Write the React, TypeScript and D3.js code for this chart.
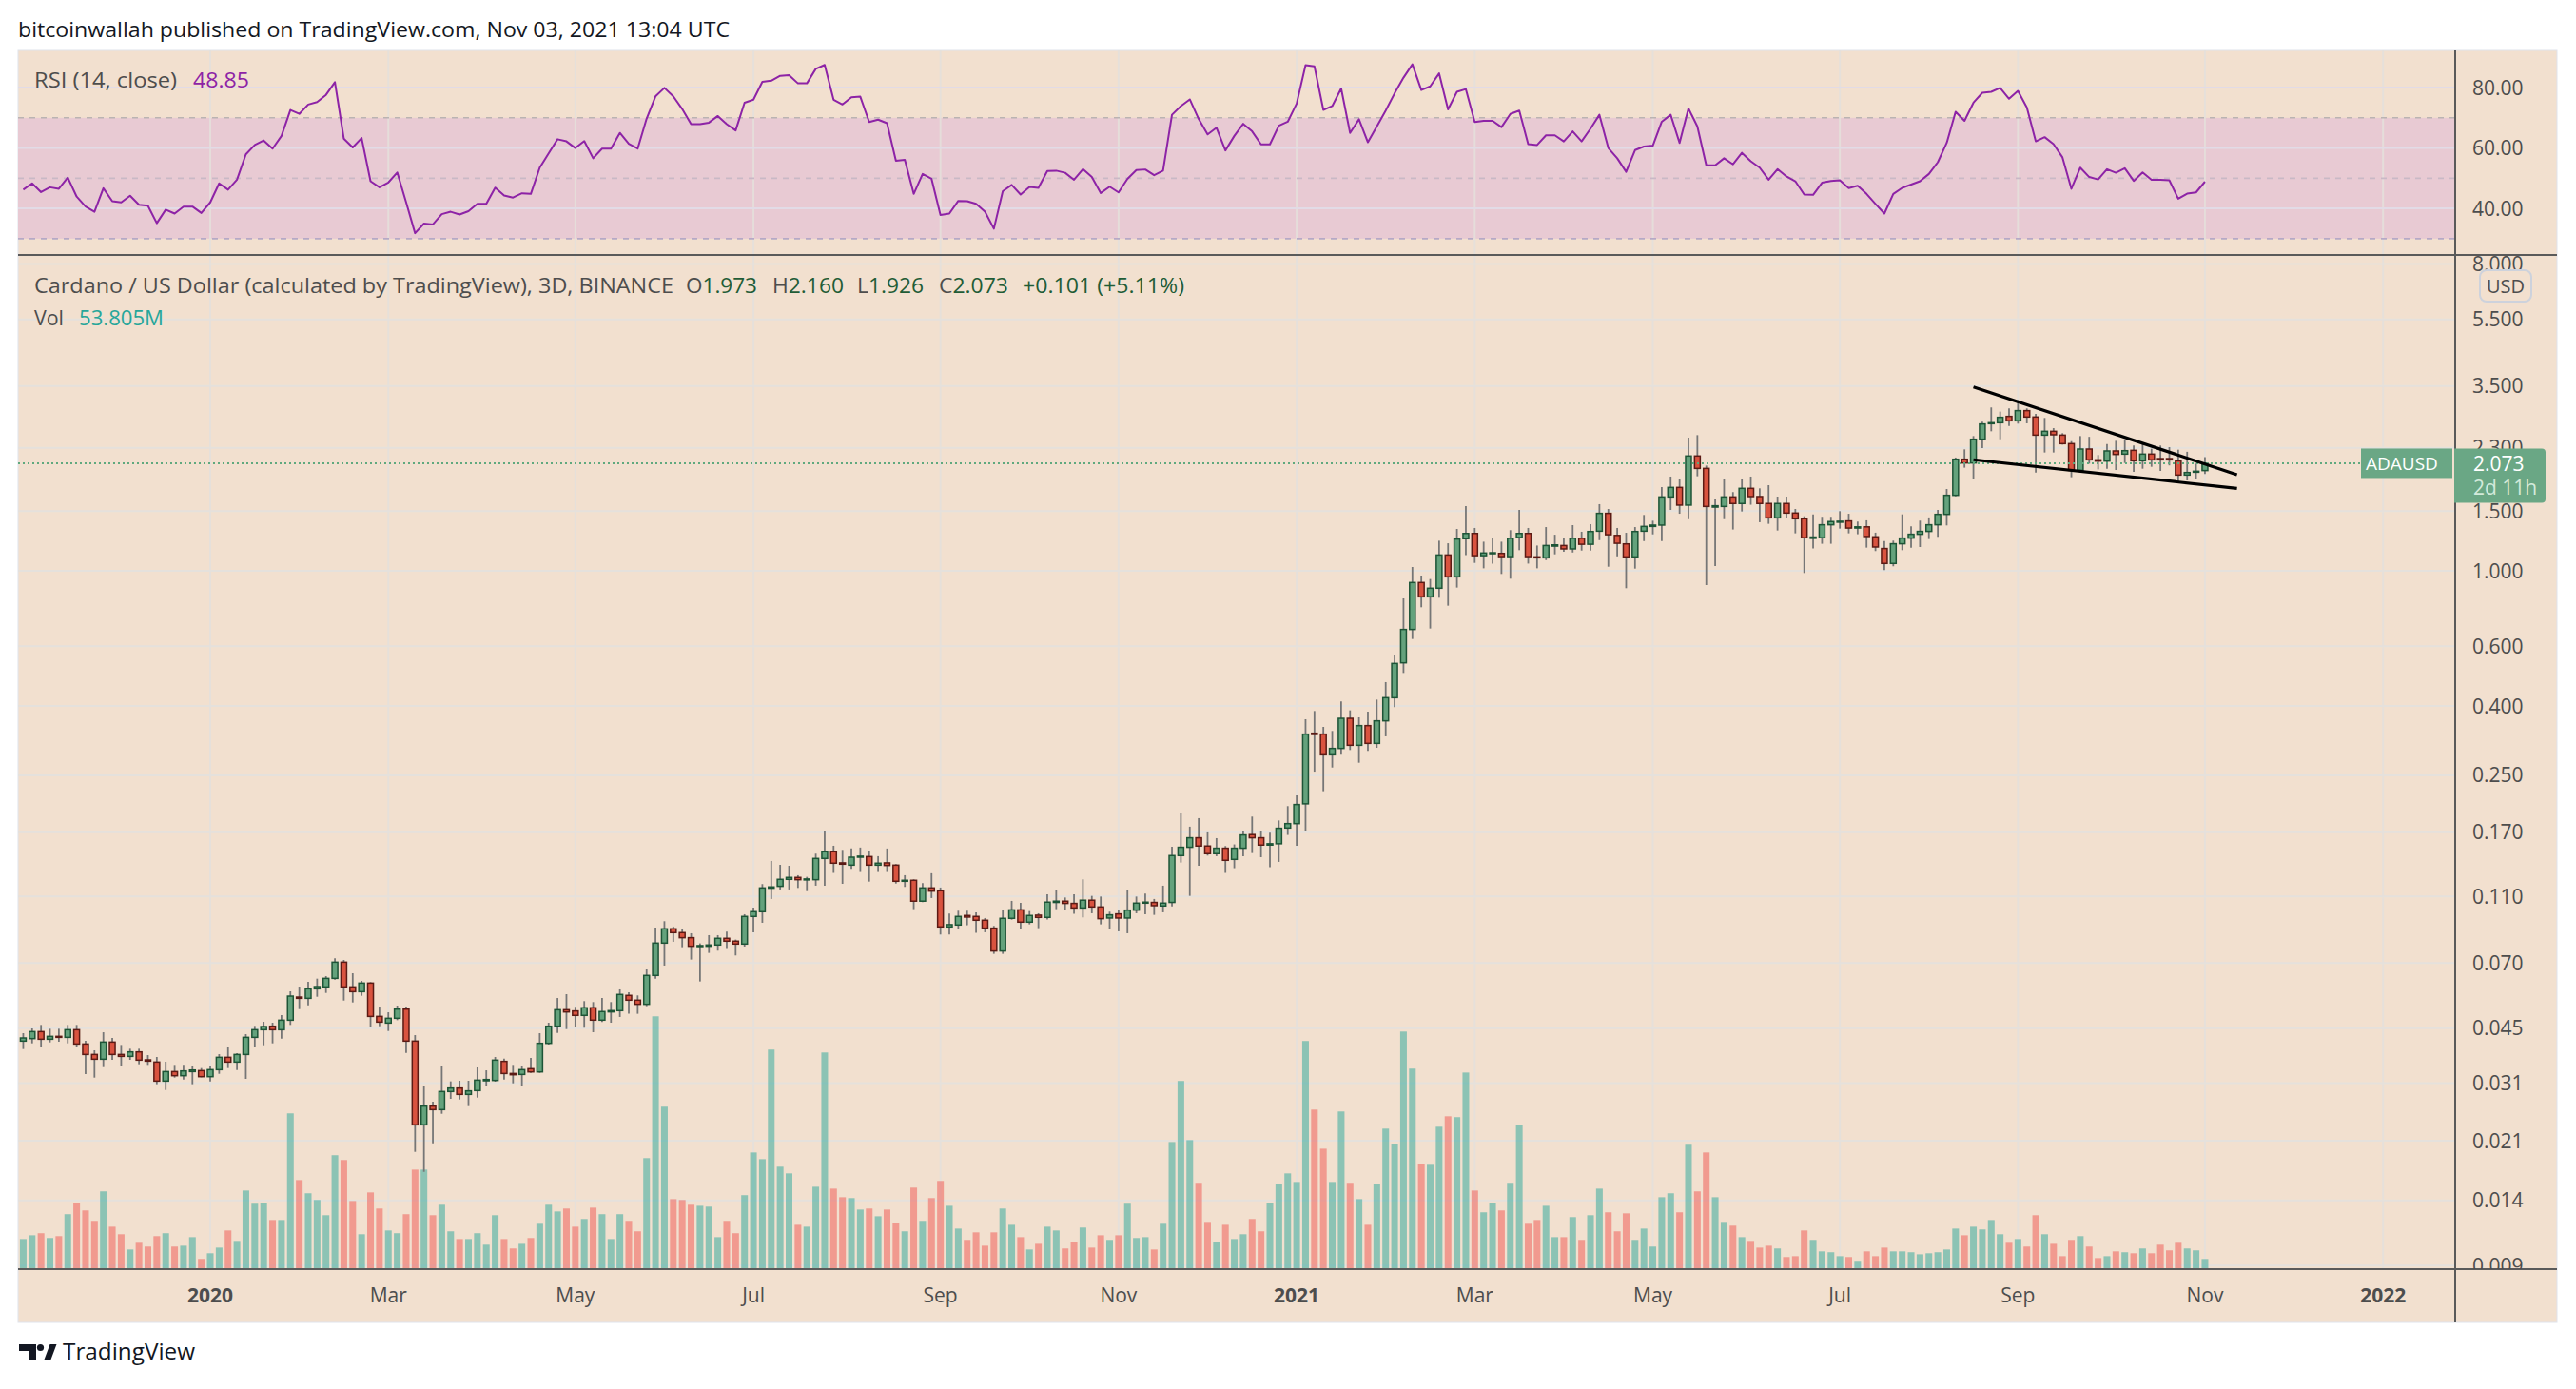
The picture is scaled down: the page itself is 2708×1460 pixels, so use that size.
import React, { useEffect } from 'react';
import * as d3 from 'd3';

const W = 2708;
const H = 1460;

// ---- data ----
const firstBarDate = '2019-10-30';
const barDays = 3;

const opens = [
  0.04124, 0.04195, 0.04398, 0.04177, 0.04259, 0.04231, 0.04455, 0.04044, 0.03767, 0.03648, 0.04097, 0.03767, 0.03719, 0.03833, 0.03632, 0.03578, 0.03145, 0.03354, 0.03262, 0.03354, 0.03376,
  0.03241, 0.03398, 0.03695, 0.03578, 0.03767, 0.04231, 0.04455, 0.04562, 0.04455, 0.04752,
  0.05559, 0.05512, 0.05879, 0.05955, 0.06311, 0.07043, 0.05955, 0.05766, 0.06111, 0.04876,
  0.04661, 0.04814, 0.05123, 0.04124, 0.02338, 0.02654, 0.02592, 0.0293, 0.03, 0.02874,
  0.02949, 0.03152, 0.03159, 0.03594, 0.03311, 0.0329, 0.0342, 0.03347, 0.04062, 0.04562,
  0.05101, 0.0506, 0.0491, 0.0517, 0.04754, 0.05027, 0.0507, 0.05622, 0.05443, 0.05293,
  0.06437, 0.08015, 0.0883, 0.08605, 0.08314, 0.07845, 0.07845, 0.07913, 0.08279, 0.0812,
  0.07964, 0.09603, 0.09917, 0.1163, 0.1178, 0.1235, 0.1251, 0.1232, 0.1232, 0.1423,
  0.1489, 0.1381, 0.136, 0.1435, 0.1441, 0.136, 0.1381, 0.136, 0.1219, 0.1227,
  0.1065, 0.1165, 0.1143, 0.08945, 0.09061, 0.09665, 0.09603, 0.09358, 0.08868, 0.07597,
  0.0948, 0.1004, 0.09238, 0.09686, 0.09541, 0.1056, 0.1065, 0.1049, 0.1017, 0.1072,
  0.1024, 0.095, 0.09769, 0.095, 0.1002, 0.1051, 0.1056, 0.1031, 0.1056, 0.1451,
  0.1535, 0.1637, 0.1548, 0.147, 0.1525, 0.1414, 0.1525, 0.1673, 0.1637, 0.1558,
  0.1572, 0.1749, 0.1802, 0.2061, 0.3326, 0.3305, 0.2873, 0.3, 0.3679, 0.3065,
  0.3502, 0.3105, 0.3617, 0.4231, 0.536, 0.6719, 0.9236, 0.8384, 0.8886, 1.113,
  0.96, 1.243, 1.288, 1.108, 1.123, 1.125, 1.101, 1.253, 1.288, 1.099,
  1.092, 1.182, 1.187, 1.16, 1.247, 1.197, 1.308, 1.476, 1.271, 1.2,
  1.099, 1.308, 1.351, 1.363, 1.65, 1.76, 1.561, 2.178, 2.002, 1.54,
  1.547, 1.65, 1.578, 1.749, 1.654, 1.578, 1.432, 1.578, 1.479, 1.423,
  1.246, 1.251, 1.366, 1.39, 1.402, 1.336, 1.347, 1.259, 1.163, 1.051,
  1.201, 1.248, 1.281, 1.306, 1.366, 1.466, 1.668, 2.131, 2.077, 2.44,
  2.712, 2.729, 2.849, 2.765, 2.962, 2.837, 2.509, 2.575, 2.509, 2.368,
  1.976, 2.283, 2.122, 2.104, 2.254, 2.206, 2.263, 2.108, 2.206, 2.14,
  2.14, 2.108, 1.914, 1.951, 1.973,
];

const highs = [
  0.04351, 0.04494, 0.04602, 0.04484, 0.04484, 0.04602, 0.04602, 0.04133, 0.03874, 0.04379, 0.04213, 0.04018, 0.03916, 0.03916, 0.03751, 0.03703, 0.03586, 0.0351, 0.0351, 0.03472, 0.03435,
  0.03495, 0.03775, 0.03976, 0.038, 0.04323, 0.04572, 0.04701, 0.04671, 0.04918, 0.05779,
  0.05968, 0.06164, 0.06298, 0.06407, 0.07227, 0.0715, 0.06532, 0.06204, 0.0615, 0.05212,
  0.05014, 0.05246, 0.05212, 0.04295, 0.03052, 0.02735, 0.03495, 0.03139, 0.03152, 0.03152,
  0.0345, 0.03383, 0.03703, 0.03664, 0.0351, 0.03495, 0.03679, 0.04351, 0.04671, 0.05523,
  0.05668, 0.05203, 0.05408, 0.05373, 0.05525, 0.05373, 0.05856, 0.05744, 0.05622, 0.06705,
  0.08906, 0.09297, 0.08964, 0.08792, 0.08568, 0.07998, 0.08458, 0.08458, 0.0866, 0.08207,
  0.09748, 0.102, 0.1196, 0.1399, 0.1363, 0.1354, 0.127, 0.1256, 0.147, 0.1709,
  0.1551, 0.1508, 0.1522, 0.1532, 0.1498, 0.1445, 0.1522, 0.1369, 0.127, 0.1235,
  0.1203, 0.1287, 0.1168, 0.0979, 0.09981, 0.09981, 0.09875, 0.095, 0.09003, 0.1004,
  0.1067, 0.1053, 0.09959, 0.09811, 0.1116, 0.1145, 0.1092, 0.1116, 0.1235, 0.1104,
  0.1099, 0.09917, 0.1002, 0.1145, 0.1099, 0.1121, 0.1081, 0.1183, 0.1541, 0.1931,
  0.1765, 0.187, 0.1698, 0.1633, 0.1548, 0.1565, 0.1716, 0.189, 0.1716, 0.1694,
  0.1841, 0.2029, 0.2183, 0.3656, 0.3866, 0.3472, 0.3377, 0.4123, 0.3883, 0.3703,
  0.385, 0.4177, 0.4703, 0.5657, 0.8294, 1.026, 0.9683, 0.9457, 1.226, 1.205,
  1.328, 1.551, 1.337, 1.218, 1.25, 1.218, 1.317, 1.511, 1.337, 1.187,
  1.345, 1.277, 1.253, 1.363, 1.303, 1.371, 1.571, 1.521, 1.337, 1.294,
  1.345, 1.46, 1.404, 1.764, 1.894, 1.857, 2.467, 2.509, 2.041, 1.633,
  1.857, 1.705, 1.865, 1.894, 1.749, 1.787, 1.654, 1.654, 1.521, 1.447,
  1.466, 1.442, 1.442, 1.498, 1.472, 1.396, 1.408, 1.295, 1.224, 1.227,
  1.466, 1.352, 1.405, 1.436, 1.511, 1.741, 2.155, 2.278, 2.493, 2.747,
  3.027, 2.943, 3.007, 3.18, 3.007, 2.899, 2.819, 2.631, 2.542, 2.408,
  2.493, 2.48, 2.192, 2.363, 2.414, 2.424, 2.338, 2.388, 2.288, 2.338,
  2.313, 2.273, 2.241, 2.068, 2.16,
];

const lows = [
  0.03908, 0.04062, 0.03976, 0.04088, 0.04106, 0.04062, 0.03959, 0.03297, 0.0322, 0.03457, 0.03632, 0.0348, 0.03632, 0.03525, 0.0351, 0.03079, 0.02961, 0.0322, 0.03179, 0.03079, 0.03227,
  0.03139, 0.03304, 0.03435, 0.0339, 0.03193, 0.03959, 0.0401, 0.04062, 0.04195, 0.04602,
  0.05123, 0.05258, 0.05571, 0.05717, 0.06257, 0.05429, 0.0536, 0.05608, 0.04533, 0.04562,
  0.04417, 0.04752, 0.03808, 0.01947, 0.017, 0.02063, 0.0252, 0.02788, 0.02776, 0.02654,
  0.02812, 0.03039, 0.03132, 0.03179, 0.03098, 0.03039, 0.03325, 0.03325, 0.04027, 0.0436,
  0.04474, 0.04524, 0.04515, 0.0438, 0.04692, 0.04672, 0.04857, 0.04963, 0.04963, 0.05226,
  0.063, 0.06881, 0.08085, 0.07795, 0.07168, 0.06179, 0.07499, 0.07613, 0.07745, 0.07371,
  0.07828, 0.08624, 0.09198, 0.1081, 0.1153, 0.1153, 0.1165, 0.114, 0.1183, 0.1183,
  0.129, 0.1198, 0.1326, 0.1298, 0.1216, 0.1298, 0.1298, 0.12, 0.1173, 0.1009,
  0.1058, 0.1088, 0.08495, 0.08495, 0.08811, 0.09042, 0.08587, 0.08624, 0.07451, 0.07451,
  0.09398, 0.08811, 0.091, 0.08868, 0.09398, 0.1009, 0.1002, 0.09769, 0.09541, 0.09811,
  0.091, 0.08811, 0.0868, 0.08568, 0.09811, 0.09748, 0.09706, 0.09875, 0.1028, 0.1384,
  0.1104, 0.1354, 0.1451, 0.1445, 0.129, 0.1332, 0.1445, 0.1476, 0.1435, 0.134,
  0.139, 0.1669, 0.1551, 0.1709, 0.2563, 0.2245, 0.2636, 0.2873, 0.2968, 0.2723,
  0.2949, 0.3013, 0.3256, 0.3967, 0.5004, 0.6299, 0.781, 0.6762, 0.833, 0.7894,
  0.8924, 1.113, 1.055, 1.017, 1.05, 0.9788, 0.9478, 1.15, 1.05, 1.017,
  1.075, 1.118, 1.137, 1.132, 1.147, 1.147, 1.231, 1.028, 1.103, 0.8886,
  1.015, 1.223, 1.28, 1.223, 1.511, 1.472, 1.419, 1.898, 0.9078, 1.033,
  1.419, 1.323, 1.495, 1.565, 1.39, 1.375, 1.314, 1.426, 1.289, 0.985,
  1.163, 1.201, 1.201, 1.331, 1.289, 1.281, 1.17, 1.143, 1.005, 1.031,
  1.15, 1.17, 1.175, 1.24, 1.259, 1.36, 1.657, 2.012, 1.865, 2.298,
  2.575, 2.44, 2.671, 2.712, 2.718, 1.947, 2.23, 2.23, 2.353, 1.886,
  1.947, 2.068, 1.989, 1.998, 1.981, 2.077, 1.955, 1.998, 2.024, 1.968,
  2.043, 1.814, 1.845, 1.857, 1.926,
];

const closes = [
  0.04213, 0.04398, 0.04177, 0.04259, 0.04231, 0.04455, 0.04044, 0.03767, 0.03648, 0.04097, 0.03767, 0.03719, 0.03833, 0.03625, 0.03601, 0.03145, 0.03354, 0.03262, 0.03369, 0.0339, 0.03241,
  0.03398, 0.03695, 0.03578, 0.03767, 0.04231, 0.04455, 0.04552, 0.04455, 0.04752, 0.05595,
  0.05512, 0.05879, 0.05968, 0.06311, 0.07043, 0.05955, 0.05766, 0.06111, 0.04876, 0.04691,
  0.04814, 0.05123, 0.04124, 0.02338, 0.02654, 0.02592, 0.0293, 0.03, 0.02874, 0.02943,
  0.03165, 0.03179, 0.03625, 0.03311, 0.03283, 0.03398, 0.03347, 0.04062, 0.04562, 0.05101,
  0.05025, 0.0491, 0.0517, 0.04754, 0.05038, 0.0507, 0.05658, 0.05443, 0.05293, 0.06437,
  0.08015, 0.0883, 0.08605, 0.08314, 0.07845, 0.07879, 0.07913, 0.08279, 0.0812, 0.07964,
  0.09603, 0.09917, 0.1165, 0.1173, 0.1235, 0.1251, 0.1232, 0.1238, 0.1423, 0.1489,
  0.1378, 0.1369, 0.1435, 0.1445, 0.136, 0.1378, 0.1357, 0.1219, 0.1227, 0.1065,
  0.1165, 0.114, 0.08945, 0.09081, 0.09603, 0.09562, 0.09358, 0.08868, 0.07597, 0.0948,
  0.1004, 0.09238, 0.09665, 0.09541, 0.1058, 0.1065, 0.1049, 0.1017, 0.1072, 0.1024,
  0.09459, 0.09706, 0.095, 0.1002, 0.1051, 0.1058, 0.1033, 0.1051, 0.1451, 0.1535,
  0.1637, 0.1548, 0.147, 0.1525, 0.1405, 0.1525, 0.1669, 0.1637, 0.1558, 0.1572,
  0.1746, 0.1802, 0.2051, 0.3305, 0.3298, 0.2873, 0.3, 0.3679, 0.3065, 0.3502,
  0.3105, 0.3617, 0.4231, 0.5337, 0.6719, 0.9236, 0.8384, 0.8886, 1.113, 0.96,
  1.24, 1.288, 1.108, 1.128, 1.13, 1.101, 1.247, 1.288, 1.101, 1.092,
  1.187, 1.192, 1.16, 1.247, 1.197, 1.305, 1.476, 1.277, 1.205, 1.099,
  1.305, 1.351, 1.363, 1.65, 1.76, 1.561, 2.178, 2.002, 1.547, 1.554,
  1.65, 1.578, 1.749, 1.654, 1.578, 1.432, 1.578, 1.479, 1.423, 1.251,
  1.257, 1.366, 1.396, 1.399, 1.336, 1.347, 1.262, 1.175, 1.051, 1.201,
  1.248, 1.281, 1.306, 1.366, 1.466, 1.668, 2.131, 2.077, 2.44, 2.706,
  2.729, 2.831, 2.765, 2.962, 2.837, 2.509, 2.575, 2.515, 2.368, 1.976,
  2.283, 2.122, 2.104, 2.254, 2.201, 2.258, 2.108, 2.206, 2.122, 2.122,
  2.122, 1.914, 1.947, 1.964, 2.073,
];

// volume in millions
const volumes = [
  170, 192, 204, 176, 187, 315, 381, 337, 276, 448, 242, 198, 109, 148, 126, 187, 204, 126, 131, 181, 54,
  87, 120, 220, 159, 453, 376, 381, 281, 281, 903,
  514, 437, 398, 309, 659, 631, 392, 198, 442, 348,
  220, 204, 315, 575, 575, 309, 370, 215, 170, 170,
  204, 137, 309, 170, 115, 142, 176, 259, 370, 331,
  348, 242, 287, 353, 315, 170, 315, 276, 215, 642,
  1469, 942, 403, 398, 370, 364, 359, 181, 276, 204,
  426, 675, 636, 1275, 592, 553, 253, 242, 475, 1258,
  464, 414, 409, 342, 348, 303, 342, 265, 215, 470,
  276, 409, 509, 364, 231, 165, 209, 131, 209, 348,
  253, 181, 109, 142, 242, 220, 115, 154, 237, 120,
  192, 165, 192, 376, 176, 181, 109, 259, 736, 1092,
  747, 498, 270, 154, 253, 170, 198, 287, 215, 381,
  492, 553, 503, 1325, 925, 697, 503, 914, 498, 403,
  253, 492, 814, 725, 1380, 1164, 609, 603, 825, 886,
  881, 1141, 453, 326, 381, 337, 498, 836, 259, 281,
  364, 181, 181, 298, 165, 309, 464, 326, 215, 320,
  165, 231, 126, 414, 437, 326, 720, 448, 675, 414,
  270, 248, 181, 159, 120, 131, 115, 65, 70, 220,
  165, 98, 93, 70, 65, 43, 98, 70, 120, 98,
  98, 93, 81, 87, 93, 109, 231, 192, 242, 226,
  281, 198, 148, 170, 126, 309, 198, 142, 70, 165,
  187, 126, 59, 70, 98, 93, 87, 115, 87, 137,
  104, 148, 115, 104, 53.805,
];

const rsiValues = [
  46.2, 48.3, 45.4, 47.0, 46.5, 50.2, 43.9, 40.6, 38.9, 46.7, 42.4, 42.0, 44.2, 41.2, 40.9, 35.1, 39.6, 38.3, 40.6, 40.6, 38.5,
  42.0, 48.3, 46.2, 49.5, 57.9, 61.0, 62.5, 59.8, 64.0, 72.6,
  71.3, 74.4, 75.2, 77.6, 81.8, 63.1, 60.2, 63.3, 49.0, 47.0,
  48.6, 51.9, 42.0, 31.8, 35.0, 34.7, 38.1, 38.9, 38.0, 39.1,
  41.5, 41.5, 46.9, 44.3, 43.6, 45.0, 44.8, 53.5, 58.2, 62.9,
  62.2, 60.0, 62.3, 56.6, 59.8, 59.8, 65.0, 61.4, 59.8, 69.7,
  77.1, 79.9, 77.1, 72.9, 67.9, 67.9, 68.4, 70.6, 67.9, 65.8,
  75.0, 76.0, 81.9, 82.3, 83.9, 84.1, 81.4, 81.4, 86.2, 87.5,
  76.0, 74.4, 76.8, 77.0, 68.6, 69.4, 68.2, 55.8, 56.1, 44.8,
  51.4, 49.8, 37.8, 38.3, 42.5, 42.4, 41.5, 38.9, 33.3, 45.7,
  47.8, 44.6, 47.1, 46.8, 52.4, 52.5, 51.8, 49.5, 53.0, 50.4,
  45.1, 47.2, 45.3, 49.8, 52.7, 52.9, 51.0, 52.5, 71.0, 73.9,
  76.1, 69.6, 64.5, 66.7, 59.2, 64.0, 68.0, 65.5, 61.2, 61.2,
  67.4, 68.7, 74.7, 87.4, 87.0, 72.6, 73.9, 79.7, 65.0, 69.5,
  61.9, 67.1, 72.4, 78.1, 83.3, 87.7, 79.2, 80.4, 84.7, 72.8,
  78.6, 79.5, 68.6, 69.0, 69.0, 66.9, 71.3, 72.4, 61.3, 61.0,
  64.2, 64.2, 62.2, 65.5, 62.2, 66.4, 71.0, 60.0, 56.6, 52.1,
  59.3, 60.5, 60.8, 68.7, 71.0, 61.7, 73.1, 67.1, 54.3, 54.3,
  56.6, 54.6, 58.4, 55.6, 53.5, 49.5, 53.0, 50.6, 49.0, 44.6,
  44.5, 48.5, 49.1, 49.3, 46.7, 47.5, 44.8, 41.5, 38.3, 44.8,
  46.8, 47.9, 49.0, 51.4, 55.3, 61.7, 72.0, 69.0, 75.0, 78.3,
  78.6, 79.9, 76.3, 78.9, 73.4, 62.2, 63.6, 61.3, 56.9, 46.5,
  53.5, 50.4, 49.6, 53.0, 51.8, 53.3, 49.1, 51.9, 49.5, 49.5,
  49.3, 43.2, 44.9, 45.3, 48.85,
];

const priceTicks = [8, 5.5, 3.5, 2.3, 1.5, 1, 0.6, 0.4, 0.25, 0.17, 0.11, 0.07, 0.045, 0.031, 0.021, 0.014, 0.009];
const rsiTicks = [80, 60, 40];
const rsiLevels = [70, 50, 30];
const timeTickDates = ['2020-01-01', '2020-03-01', '2020-05-01', '2020-07-01', '2020-09-01', '2020-11-01', '2021-01-01', '2021-03-01', '2021-05-01', '2021-07-01', '2021-09-01', '2021-11-01', '2022-01-01'];
const timeTickLabels = ['2020', 'Mar', 'May', 'Jul', 'Sep', 'Nov', '2021', 'Mar', 'May', 'Jul', 'Sep', 'Nov', '2022'];

// drawing-tool trend lines: [bar index, price]
const trendUpper: [number, number][] = [[219, 3.479], [248.6, 1.919]];
const trendLower: [number, number][] = [[219, 2.123], [248.6, 1.748]];

const headerText = 'bitcoinwallah published on TradingView.com, Nov 03, 2021 13:04 UTC';
const symbolText = 'Cardano / US Dollar (calculated by TradingView), 3D, BINANCE';
const lastChange = '+0.101 (+5.11%)';
const lastVolText = '53.805M';
const timeLeft = '2d 11h';

// ---- layout ----
const L = 19;
const AX = 2581;
const R = 2688;
const TOP = 53;
const SEP = 268;
const BOT = 1334;
const FBOT = 1390;

const FONT = "'Open Sans', 'DejaVu Sans', sans-serif";
const BG = '#f2e0cf';
const GRID = '#e5e1dc';
const TXT = '#4d4d4d';
const UP_FILL = '#64a27c';
const UP_LINE = '#1d5436';
const DN_FILL = '#d9533f';
const DN_LINE = '#5b1a14';
const WICK = '#767676';
const PURPLE = '#8d23a6';
const VAL_GREEN = '#1f5c36';
const TAG = '#6aa785';

export default function App() {
  useEffect(() => {
    document.body.style.margin = '0';
  }, []);

  const n = closes.length;
  const idx = d3.range(n);
  const x = d3.scaleLinear().domain([-0.58, 273.1]).range([L, AX]);
  const y = d3.scaleLog().domain([8.51, 0.00879]).range([SEP, BOT]);
  const yr = d3.scaleLinear().domain([92.3, 24.6]).range([TOP, SEP]);
  const yv = d3.scaleLinear().domain([0, 1480]).range([BOT - 1, BOT - 1 - 266.7]);

  const start = new Date(firstBarDate + 'T00:00:00Z');
  const tickIdx = timeTickDates.map((d) => Math.ceil(d3.utcDay.count(start, new Date(d + 'T00:00:00Z')) / barDays));

  const rsiLine = d3
    .line<number>()
    .x((i) => x(i))
    .y((i) => yr(rsiValues[i]));

  const trend = d3
    .line<[number, number]>()
    .x((p) => x(p[0]))
    .y((p) => y(p[1]));

  const last = closes[n - 1];
  const lastY = y(last);
  const fmt3 = d3.format('.3f');

  const bodyW = 6;
  const volW = 7;

  const ohlc: [string, number, number, number][] = [
    ['O', opens[n - 1], 721, 75],
    ['H', highs[n - 1], 812, 75],
    ['L', lows[n - 1], 901, 70],
    ['C', closes[n - 1], 987, 73],
  ];

  return (
    <svg width={W} height={H} viewBox={`0 0 ${W} ${H}`} style={{ display: 'block', position: 'absolute', left: 0, top: 0 }} fontFamily={FONT}>
      <defs>
        <clipPath id="pricePane">
          <rect x={L} y={SEP} width={AX - L} height={BOT - SEP} />
        </clipPath>
        <clipPath id="rsiPane">
          <rect x={L} y={TOP} width={AX - L} height={SEP - TOP} />
        </clipPath>
        <clipPath id="axisPane">
          <rect x={AX} y={SEP + 1} width={R - AX} height={BOT - SEP - 1} />
        </clipPath>
      </defs>
      <rect x={0} y={0} width={W} height={H} fill="#ffffff" />
      <text x={19} y={39} fontSize={22.5} fill="#131722" textLength={748} lengthAdjust="spacingAndGlyphs">{headerText}</text>

      {/* frame */}
      <rect x={L} y={TOP} width={R - L} height={FBOT - TOP} fill={BG} stroke="#e0e3eb" strokeWidth={1} />

      {/* RSI band */}
      <rect x={L} y={yr(70)} width={AX - L} height={yr(30) - yr(70)} fill="#e8cad3" />

      {/* vertical grid */}
      {tickIdx.map((t, i) => (
        <line key={'vg' + i} x1={x(t)} x2={x(t)} y1={TOP} y2={BOT} stroke={GRID} strokeWidth={2} opacity={0.85} />
      ))}
      {/* rsi grid */}
      {rsiTicks.map((v) => (
        <line key={'rg' + v} x1={L} x2={AX} y1={yr(v)} y2={yr(v)} stroke="#e2dbe6" strokeWidth={2} />
      ))}
      {rsiLevels.map((v, i) => (
        <line key={'rl' + v} x1={L} x2={AX} y1={yr(v)} y2={yr(v)} stroke={i === 0 ? '#bab3b2' : i === 1 ? '#c9b9c6' : '#b5a9c6'} strokeWidth={1.6} strokeDasharray="6,6" />
      ))}
      {/* price grid */}
      {priceTicks.map((p) => (
        <line key={'pg' + p} x1={L} x2={AX} y1={y(p)} y2={y(p)} stroke={GRID} strokeWidth={2} />
      ))}

      {/* RSI line */}
      <g clipPath="url(#rsiPane)">
        <path d={rsiLine(idx) || ''} fill="none" stroke={PURPLE} strokeWidth={2} strokeLinejoin="round" />
      </g>

      {/* price pane */}
      <g clipPath="url(#pricePane)">
        {idx.map((i) => {
          const up = closes[i] >= opens[i];
          const top = yv(volumes[i]);
          return (
            <rect key={'v' + i} x={x(i) - volW / 2} y={top} width={volW} height={BOT - 1 - top} fill={up ? 'rgb(38,166,154)' : 'rgb(239,83,80)'} opacity={0.5} />
          );
        })}
        {idx.map((i) => (
          <line key={'w' + i} x1={x(i)} x2={x(i)} y1={y(highs[i])} y2={y(lows[i])} stroke={WICK} strokeWidth={1.8} />
        ))}
        {idx.map((i) => {
          const up = closes[i] >= opens[i];
          const y0 = y(Math.max(opens[i], closes[i]));
          const y1 = y(Math.min(opens[i], closes[i]));
          const h = Math.max(y1 - y0, 1);
          return (
            <rect key={'b' + i} x={x(i) - bodyW / 2} y={y0} width={bodyW} height={h} fill={up ? UP_FILL : DN_FILL} stroke={up ? UP_LINE : DN_LINE} strokeWidth={1.5} />
          );
        })}
        <line x1={L} x2={2482} y1={lastY} y2={lastY} stroke="#5fa97e" strokeWidth={2} strokeDasharray="2,3" />
        <path d={trend(trendUpper) || ''} stroke="#000" strokeWidth={3.2} fill="none" />
        <path d={trend(trendLower) || ''} stroke="#000" strokeWidth={3.2} fill="none" />
      </g>

      {/* legends */}
      <text x={36} y={92} fontSize={21} fill={TXT} textLength={150} lengthAdjust="spacingAndGlyphs">RSI (14, close)</text>
      <text x={203} y={92} fontSize={21} fill={PURPLE} textLength={59} lengthAdjust="spacingAndGlyphs">{d3.format('.2f')(rsiValues[n - 1])}</text>

      <text x={36} y={308} fontSize={21.5} fill={TXT} textLength={672} lengthAdjust="spacingAndGlyphs">{symbolText}</text>
      {ohlc.map(([lab, v, px, len]) => (
        <text key={lab} x={px} y={308} fontSize={21.5} fill={TXT} textLength={len} lengthAdjust="spacingAndGlyphs">
          {lab}
          <tspan fill={VAL_GREEN}>{fmt3(v)}</tspan>
        </text>
      ))}
      <text x={1075} y={308} fontSize={21.5} fill={VAL_GREEN} textLength={170} lengthAdjust="spacingAndGlyphs">{lastChange}</text>
      <text x={36} y={342} fontSize={21.5} fill={TXT} textLength={31} lengthAdjust="spacingAndGlyphs">Vol</text>
      <text x={83} y={342} fontSize={21.5} fill="#26a69a" textLength={89} lengthAdjust="spacingAndGlyphs">{lastVolText}</text>

      {/* pane separators and axes */}
      <line x1={L} x2={R} y1={SEP} y2={SEP} stroke="#5a5a5a" strokeWidth={2} />
      <line x1={L} x2={R} y1={BOT} y2={BOT} stroke="#5a5a5a" strokeWidth={2} />
      <line x1={AX} x2={AX} y1={TOP} y2={FBOT} stroke="#5a5a5a" strokeWidth={2} />

      {/* right axis labels */}
      {rsiTicks.map((v) => (
        <text key={'rt' + v} x={2599} y={yr(v)} dy="0.36em" fontSize={21} fill={TXT}>{d3.format('.2f')(v)}</text>
      ))}
      <g clipPath="url(#axisPane)">
        {priceTicks.map((p) => (
          <text key={'pt' + p} x={2599} y={y(p)} dy="0.36em" fontSize={21} fill={TXT}>{fmt3(p)}</text>
        ))}
      </g>
      <rect x={2607} y={284} width={54} height={33} rx={7} fill={BG} stroke="#cdd2dc" strokeWidth={2} />
      <text x={2634} y={300.5} dy="0.36em" textAnchor="middle" fontSize={20} fill={TXT}>USD</text>

      {/* last price tags */}
      <rect x={2482} y={lastY - 15.5} width={96} height={31} fill={TAG} />
      <text x={2487} y={lastY} dy="0.36em" fontSize={19} fill="#ffffff">ADAUSD</text>
      <path d={`M${AX - 1},${lastY - 15.5} H${2672} a4,4 0 0 1 4,4 V${lastY + 37.5} a4,4 0 0 1 -4,4 H${AX - 1} Z`} fill={TAG} />
      <text x={2600} y={lastY} dy="0.36em" fontSize={21} fill="#ffffff">{fmt3(last)}</text>
      <text x={2600} y={lastY + 25.5} dy="0.36em" fontSize={21} fill="#d3eadb">{timeLeft}</text>

      {/* time axis */}
      {tickIdx.map((t, i) => (
        <text key={'tt' + i} x={x(t)} y={1369} textAnchor="middle" fontSize={21} fontWeight={/^\d/.test(timeTickLabels[i]) ? 700 : 400} fill={TXT}>
          {timeTickLabels[i]}
        </text>
      ))}

      {/* TradingView logo */}
      <g fill="#131722">
        <path d="M20,1413 H38 V1429 H31 V1420 H20 Z" />
        <circle cx={42.5} cy={1416.5} r={3.6} />
        <path d="M46.5,1429 L52.5,1413 H59.5 L53.5,1429 Z" />
        <text x={66} y={1429} fontSize={24} fontWeight={500} textLength={139} lengthAdjust="spacingAndGlyphs">TradingView</text>
      </g>
    </svg>
  );
}
